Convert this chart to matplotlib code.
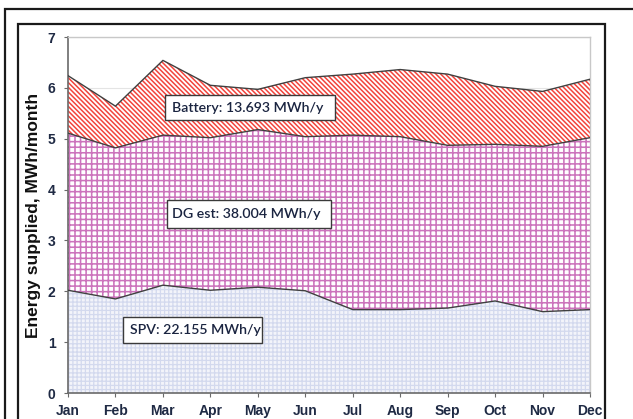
import matplotlib
matplotlib.use("Agg")
import matplotlib.pyplot as plt
from matplotlib.patches import Rectangle
import numpy as np

months = ["Jan", "Feb", "Mar", "Apr", "May", "Jun", "Jul", "Aug", "Sep", "Oct", "Nov", "Dec"]
spv = [2.02, 1.85, 2.12, 2.02, 2.08, 2.01, 1.64, 1.64, 1.67, 1.81, 1.60, 1.64]
dg = [3.09, 2.97, 2.95, 3.00, 3.10, 3.03, 3.43, 3.40, 3.20, 3.08, 3.25, 3.38]
battery = [1.13, 0.82, 1.47, 1.03, 0.79, 1.16, 1.20, 1.32, 1.40, 1.14, 1.08, 1.15]
labels = ["SPV: 22.155 MWh/y", "DG est: 38.004 MWh/y", "Battery: 13.693 MWh/y"]
yticks = [0, 1, 2, 3, 4, 5, 6, 7]

fig = plt.figure(figsize=(6.33, 4.19), dpi=100)
W, H = 633, 419

# outer frames
fig.patches.append(Rectangle((5 / W, -0.1), 1.0, (419 - 9) / H + 0.1, transform=fig.transFigure,
                             fill=False, edgecolor="#1a1a1a", linewidth=1.6))
fig.patches.append(Rectangle((18 / W, -0.1), (605 - 18) / W, (419 - 24) / H + 0.1, transform=fig.transFigure,
                             fill=False, edgecolor="#1a1a1a", linewidth=1.6))

ax = fig.add_axes([68 / W, 1 - 393 / H, (590 - 68) / W, (393 - 37) / H])
x = np.arange(len(months))
s1 = np.array(spv)
s2 = s1 + np.array(dg)
s3 = s2 + np.array(battery)

ax.set_axisbelow(True)
ax.yaxis.grid(True, color="#e4e4e4", linewidth=0.8)

plt.rcParams['hatch.linewidth'] = 0.9
ax.fill_between(x, 0, s1, facecolor="#f3f4fa", edgecolor="#d3d9ee", hatch="++++", linewidth=0, zorder=2)
plt.rcParams['hatch.linewidth'] = 1.15
ax.fill_between(x, s1, s2, facecolor="white", edgecolor="#cc74bc", hatch="+++", linewidth=0, zorder=2)
plt.rcParams['hatch.linewidth'] = 1.1
ax.fill_between(x, s2, s3, facecolor="white", edgecolor="#f2443c", hatch="\\" * 7, linewidth=0, zorder=2)
for s in (s1, s2, s3):
    ax.plot(x, s, color="#404040", linewidth=1.0, zorder=3)

ax.set_xlim(0, len(months) - 1)
ax.set_ylim(0, 7)
ax.set_yticks(yticks)
ax.set_xticks(x)
ax.set_xticklabels(months)

for sp in ["top", "right"]:
    ax.spines[sp].set_color("#c8c8c8")
    ax.spines[sp].set_linewidth(1.0)
for sp in ["left", "bottom"]:
    ax.spines[sp].set_color("#6a6a6a")
    ax.spines[sp].set_linewidth(1.2)
ax.spines["top"].set_zorder(4)

fam = ["Liberation Sans Narrow", "Liberation Sans", "DejaVu Sans"]
for lab in ax.get_xticklabels():
    lab.set_fontfamily(fam)
    lab.set_fontweight("bold")
    lab.set_fontsize(10)
    lab.set_color("#1f2a44")
for lab in ax.get_yticklabels():
    lab.set_fontfamily(["Liberation Sans", "DejaVu Sans"])
    lab.set_fontweight("bold")
    lab.set_fontsize(10)
    lab.set_color("#1f2a44")
ax.tick_params(axis="x", length=3, color="#6a6a6a", pad=5)
ax.tick_params(axis="y", length=3, color="#6a6a6a", pad=6)

ax.set_ylabel("Energy supplied, MWh/month", fontsize=12.5, family=["Liberation Sans", "DejaVu Sans"],
              fontweight="bold", color="#111111", labelpad=5)

# annotation boxes (x0, x1, y0, y1, text_x, text_y)
boxes = [
    (1.16, 4.09, 0.98, 1.49, 1.31, 1.24),
    (2.09, 5.54, 3.24, 3.79, 2.20, 3.52),
    (2.04, 5.63, 5.36, 5.85, 2.19, 5.61),
]
for (x0, x1, y0, y1, tx, ty), txt in zip(boxes, labels):
    ax.add_patch(Rectangle((x0, y0), x1 - x0, y1 - y0, facecolor="white", edgecolor="#3a3a3a",
                           linewidth=1.0, zorder=5))
    ax.text(tx, ty, txt, fontsize=10.2, family=["Lato", "DejaVu Sans"], fontweight="semibold",
            color="#1a2440", va="center", ha="left", zorder=6)

fig.savefig("out.png", dpi=100)
